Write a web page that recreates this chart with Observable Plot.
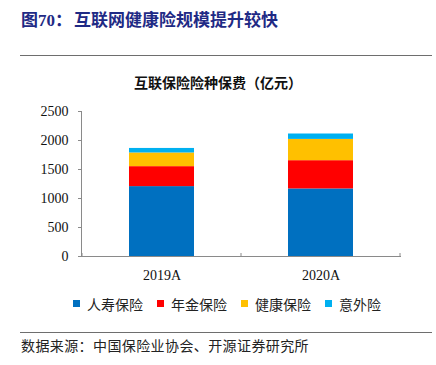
<!DOCTYPE html>
<html>
<head>
<meta charset="utf-8">
<script src="https://cdn.jsdelivr.net/npm/d3@7"></script>
<script src="https://cdn.jsdelivr.net/npm/@observablehq/plot@0.6"></script>
<style>
  html, body { margin: 0; padding: 0; background: #fff; }
  #wrap { position: relative; width: 436px; height: 365px; overflow: hidden; font-family: "Liberation Serif", "Noto Sans CJK SC", serif; }
  .abs { position: absolute; }
  #title { left: 21px; top: 6px; font-size: 17px; font-weight: bold; color: #1f2a85; white-space: nowrap; }
  #rule1 { left: 20px; top: 55px; width: 412px; height: 0; border-top: 1px solid #6e6e6e; }
  #ctitle { left: 0; width: 436px; top: 72px; text-align: center; font-size: 14px; font-weight: bold; color: #111; font-family: "Noto Sans CJK SC", sans-serif; }
  #chart { left: 0; top: 95px; }
  #legend { left: 73px; top: 287px; }
  #rule2 { left: 20px; top: 332px; width: 412px; height: 0; border-top: 1px solid #6e6e6e; }
  #source { left: 21px; top: 335px; font-size: 14px; color: #222; font-family: "Noto Sans CJK SC", sans-serif; white-space: nowrap; letter-spacing: 0.4px; }
</style>
</head>
<body>
<div id="wrap">
  <div id="title" class="abs">图70：<span style="margin-left:2px">互联网健康险规模提升较快</span></div>
  <div id="rule1" class="abs"></div>
  <div id="ctitle" class="abs">互联保险险种保费（亿元）</div>
  <div id="chart" class="abs"></div>
  <div id="legend" class="abs"></div>
  <div id="rule2" class="abs"></div>
  <div id="source" class="abs">数据来源：中国保险业协会、开源证券研究所</div>
</div>
<script>
const categories = ["2019A", "2020A"];
const seriesNames = ["人寿保险", "年金保险", "健康保险", "意外险"];
const seriesColors = ["#0070C0", "#FF0000", "#FFC000", "#00B0F0"];
const life = [1205, 1165];
const annuity = [344, 487];
const health = [236, 367];
const accident = [78, 93];
const yTicks = [0, 500, 1000, 1500, 2000, 2500];

const seriesValues = [life, annuity, health, accident];
const rows = [];
seriesNames.forEach((s, si) => {
  categories.forEach((c, ci) => rows.push({cat: c, series: s, value: seriesValues[si][ci]}));
});

const axisColor = "#8a8a8a";

// boundary ticks for the category axis (Excel style), computed from the band scale
function boundaryTicks(index, scales, values, dims) {
  const x = scales.scales.x;
  const bw = x.bandwidth, step = x.step;
  const pos = categories.map(c => scales.x(c) - (step - bw) / 2);
  pos.push(scales.x(categories[categories.length - 1]) + bw + (step - bw) / 2);
  const y0 = dims.height - dims.marginBottom;
  const g = d3.create("svg:g");
  pos.forEach(p => {
    g.append("line").attr("x1", p).attr("x2", p).attr("y1", y0).attr("y2", y0 - 3)
      .attr("stroke", axisColor).attr("stroke-width", 1);
  });
  return g.node();
}

const plot = Plot.plot({
  width: 436,
  height: 191,
  marginTop: 16,
  marginBottom: 30,
  marginLeft: 81,
  marginRight: 36,
  style: {fontFamily: "'Liberation Serif', serif", fontSize: "14px", color: "#111", background: "transparent"},
  x: {type: "band", domain: categories, paddingInner: 0.592, paddingOuter: 0.296, label: null},
  y: {domain: [0, 2500], label: null},
  color: {domain: seriesNames, range: seriesColors},
  marks: [
    Plot.barY(rows, {x: "cat", y: "value", fill: "series", order: seriesNames}),
    Plot.frame({anchor: "left", stroke: axisColor}),
    Plot.frame({anchor: "bottom", stroke: axisColor}),
    Plot.axisY({ticks: yTicks, tickFormat: d3.format("d"), tickSize: 3, tickPadding: 10, stroke: axisColor, label: null, fontSize: 14}),
    Plot.axisX({tickSize: 0, tickPadding: 14, label: null, fontSize: 14}),
    boundaryTicks
  ]
});
document.getElementById("chart").appendChild(plot);

const legend = Plot.legend({
  color: {type: "ordinal", domain: seriesNames, range: seriesColors},
  swatchSize: 7,
  style: {fontFamily: "'Noto Sans CJK SC', sans-serif", fontSize: "14px", color: "#222", background: "transparent"}
});
document.getElementById("legend").appendChild(legend);
</script>
</body>
</html>
